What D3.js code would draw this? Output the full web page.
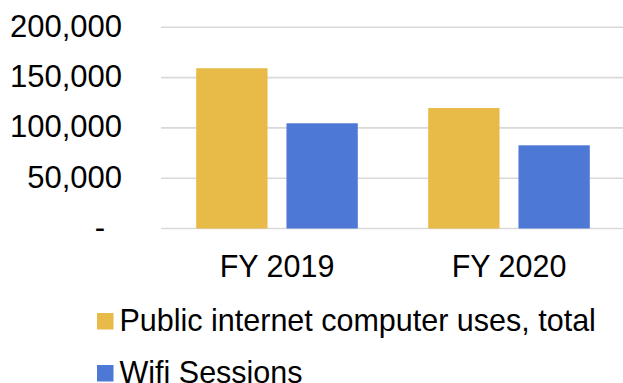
<!DOCTYPE html>
<html><head><meta charset="utf-8">
<script src="https://cdn.jsdelivr.net/npm/d3@7"></script>
<style>body{margin:0;background:#fff}svg{display:block;font-family:"Liberation Sans",Arial,sans-serif}</style>
</head><body><svg id="c" width="623" height="383"></svg>
<script>
const categories = ["FY 2019", "FY 2020"];
const seriesNames = ["Public internet computer uses, total", "Wifi Sessions"];
const publicUses = [159300, 119800];
const wifiSessions = [104600, 82700];
const yTicks = [0, 50000, 100000, 150000, 200000];
const colors = ["#E8BA47", "#4E78D6"];

(function(){
const svg = d3.select("#c");
const pL = 161, pR = 625, pT = 27.3, pB = 228.5;
const x = d3.scaleBand().domain(categories).range([pL, pR]).paddingInner(0).paddingOuter(0);
const x1 = d3.scaleBand().domain([0,1]).range([0, x.bandwidth()]).paddingInner(0.21).paddingOuter(0.39);
const y = d3.scaleLinear().domain([0, 200000]).range([pB, pT]);

svg.append("g").selectAll("line").data(yTicks).join("line")
  .attr("x1", pL).attr("x2", 623).attr("y1", d => y(d)).attr("y2", d => y(d))
  .attr("stroke", "#d9d9d9").attr("stroke-width", 1.6);

const fmt = d3.format(",");
svg.append("g").selectAll("text").data(yTicks).join("text")
  .attr("x", d => d === 0 ? 105 : 122).attr("y", d => y(d) + 9.5)
  .attr("text-anchor", "end").attr("font-size", 31).attr("fill", "#000")
  .text(d => d === 0 ? "-" : fmt(d));

const series = [publicUses, wifiSessions];
const g = svg.append("g");
categories.forEach((c, i) => {
  series.forEach((s, j) => {
    g.append("rect").attr("x", x(c) + x1(j)).attr("width", x1.bandwidth())
      .attr("y", y(s[i])).attr("height", y(0) - y(s[i])).attr("fill", colors[j]);
  });
});

svg.append("g").selectAll("text").data(categories).join("text")
  .attr("x", d => x(d) + x.bandwidth()/2).attr("y", 277)
  .attr("text-anchor", "middle").attr("font-size", 30.5).attr("fill", "#000").text(d => d);

const lg = svg.append("g");
seriesNames.forEach((n, j) => {
  const base = 331 + j*52;
  lg.append("rect").attr("x", 97).attr("y", base - 18).attr("width", 16.5).attr("height", 16.5).attr("fill", colors[j]);
  lg.append("text").attr("x", 119.5).attr("y", base).attr("font-size", 30.5).attr("fill", "#000").text(n);
});
})();
</script></body></html>
